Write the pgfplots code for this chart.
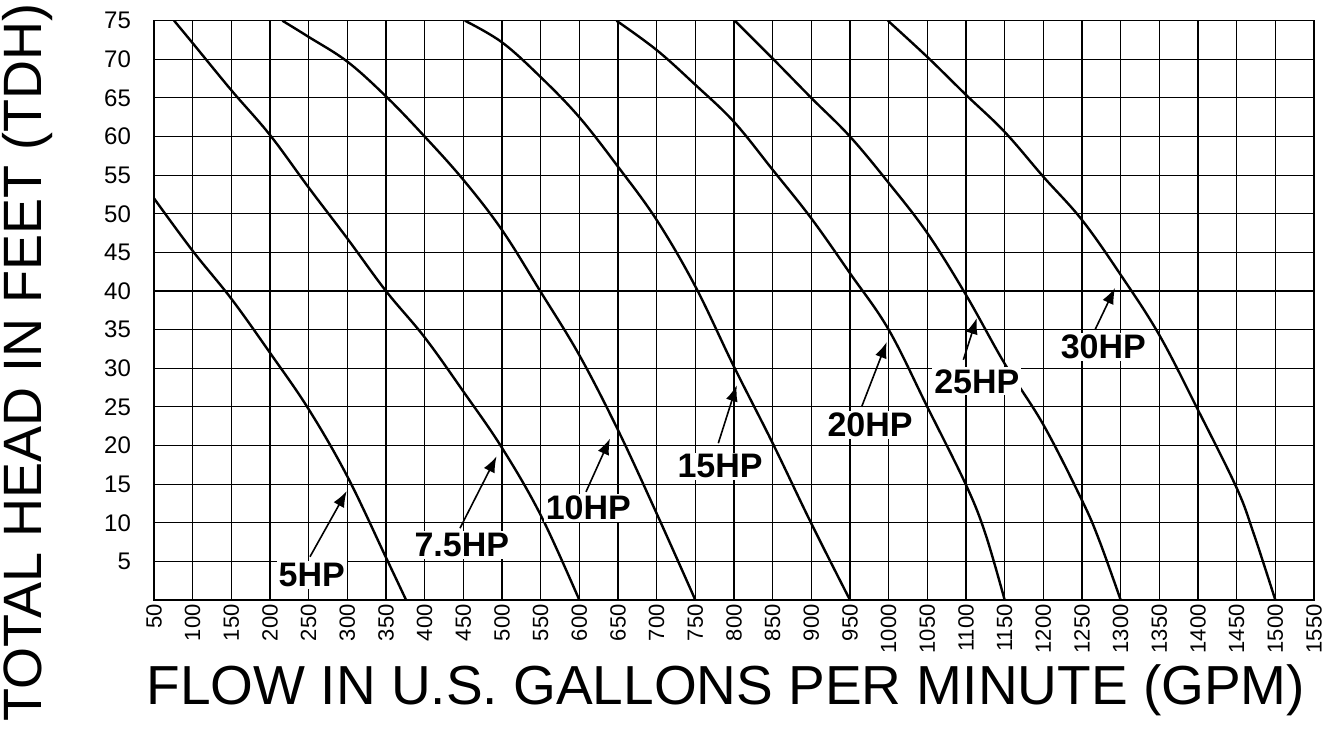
\documentclass[border=0pt]{standalone}
\usepackage{pgfplots}
\pgfplotsset{compat=1.18}
\usepackage{fontspec}
\setmainfont{Liberation Sans}
\usetikzlibrary{arrows.meta}
\begin{document}
\begin{tikzpicture}
\begin{axis}[
  scale only axis,
  width=580pt, height=289.65pt,
  xmin=50, xmax=1550, ymin=0, ymax=75,
  xtick={50,100,...,1550},
  ytick={5,10,...,75},
  grid=major,
  major grid style={black, line width=0.55pt},
  axis line style={black, line width=0.8pt},
  major tick length=0pt,
  /pgf/number format/assume math mode=true,
  /pgf/number format/1000 sep={},
  xticklabel style={rotate=90, anchor=east, font=\fontsize{11}{12}\selectfont, inner sep=2pt},
  yticklabel style={font=\fontsize{12}{13}\selectfont, xshift=-8pt},
  xlabel={FLOW IN U.S. GALLONS PER MINUTE (GPM)},
  ylabel={TOTAL HEAD IN FEET (TDH)},
  xlabel style={at={(axis description cs:0.493,0)}, anchor=center, yshift=-45pt, font=\fontsize{27.5}{30}\selectfont},
  ylabel style={at={(axis description cs:0,0.41)}, anchor=center, yshift=63pt, font=\fontsize{27}{30}\selectfont},
  cycle list={{black, solid, line width=1.2pt}},
  hp/.style={black, solid, line width=1.2pt, mark=none, smooth, tension=0.6},
]
% 5HP
\addplot[hp] coordinates {(50,52) (100,45.2) (150,39) (200,32) (250,24.7) (300,16) (350,5.5) (376,0)};
% 7.5HP
\addplot[hp] coordinates {(76,75) (100,72.1) (150,66) (200,60.2) (250,53.4) (300,46.8) (350,40) (400,34) (450,27) (500,19.7) (550,11) (600,0)};
% 10HP
\addplot[hp] coordinates {(216,75) (250,72.9) (300,69.7) (350,65.2) (400,60) (450,54.4) (500,47.9) (550,39.9) (600,31.7) (650,22) (700,11.2) (750,0)};
% 15HP
\addplot[hp] coordinates {(452,75) (500,72.2) (550,67.7) (600,62.5) (650,56.1) (700,49.2) (750,40.6) (800,30.2) (850,20.3) (900,9.9) (950,0)};
% 20HP
\addplot[hp] coordinates {(648,75) (700,71.2) (750,66.7) (800,61.9) (850,55.7) (900,49.4) (950,42.3) (1000,35) (1050,25) (1100,14.9) (1125,8.6) (1150,0)};
% 25HP
\addplot[hp] coordinates {(801,75) (850,70.1) (900,65) (950,60) (1000,54) (1050,47.5) (1100,39.5) (1150,30.6) (1200,22.7) (1250,12.9) (1272,7.8) (1300,0)};
% 30HP
\addplot[hp] coordinates {(999,75) (1050,70.3) (1100,65.4) (1150,60.6) (1200,54.8) (1250,49.2) (1300,42.1) (1350,34.3) (1400,24.6) (1450,14.5) (1472,8.6) (1500,0)};

\tikzset{hparrow/.style={-{Latex[length=8pt,width=6pt]}, line width=0.8pt, black}}
\tikzset{hplabel/.style={font=\fontsize{17}{18}\selectfont\bfseries, inner sep=1pt, fill=white}}
\draw[hparrow] (axis cs:251.7,5.6) -- (axis cs:299.2,14.1);
\node[hplabel] at (axis cs:254,3.2) {5HP};
\draw[hparrow] (axis cs:445.7,9.3) -- (axis cs:493,18.6);
\node[hplabel] at (axis cs:448,7.1) {7.5HP};
\draw[hparrow] (axis cs:608.6,14.0) -- (axis cs:639.7,20.9);
\node[hplabel] at (axis cs:611.6,11.9) {10HP};
\draw[hparrow] (axis cs:779.7,20.3) -- (axis cs:803.5,27.8);
\node[hplabel] at (axis cs:782,17.3) {15HP};
\draw[hparrow] (axis cs:965,25.0) -- (axis cs:997.5,33.4);
\node[hplabel] at (axis cs:976,22.7) {20HP};
\draw[hparrow] (axis cs:1096.6,31.1) -- (axis cs:1113.9,36.5);
\node[hplabel] at (axis cs:1114,28.3) {25HP};
\draw[hparrow] (axis cs:1266.9,35.0) -- (axis cs:1292.7,40.4);
\node[hplabel] at (axis cs:1277.6,32.8) {30HP};
\end{axis}
\pgfresetboundingbox
\useasboundingbox (-77pt,-64.5pt) rectangle (587pt,300pt);
\end{tikzpicture}
\end{document}
